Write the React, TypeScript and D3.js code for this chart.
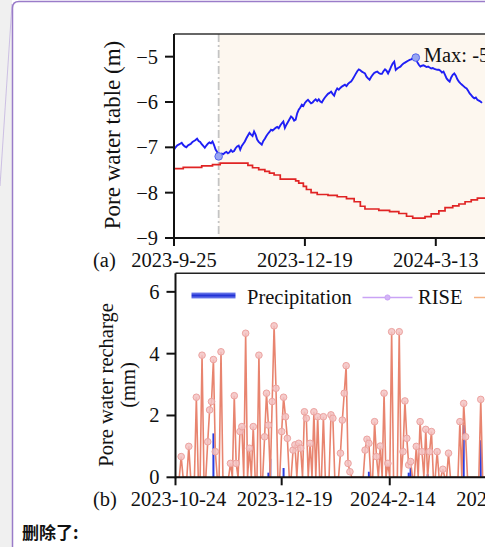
import React from "react";
import * as d3 from "d3";

const W = 485;
const H = 547;

// (a) pore water table, daily from 2023-09-25 (m)
const tableStart = "2023-9-25";
const poreWaterTable = [
  -7.05, -7.0, -6.96, -6.94, -6.92, -6.9, -6.95, -6.98, -7.0, -6.96,
  -6.94, -6.92, -6.88, -6.86, -6.84, -6.81, -6.86, -6.88, -6.93, -6.97,
  -7.01, -6.96, -6.92, -6.89, -6.91, -6.87, -6.95, -7.05, -7.1, -7.2,
  -7.17, -7.14, -7.15, -7.12, -7.1, -7.13, -7.11, -7.06, -7.1, -7.08,
  -7.02, -6.98, -6.96, -7.05, -6.97, -6.92, -6.87, -6.8, -6.74, -6.68,
  -6.72, -6.75, -6.65, -6.72, -6.83, -6.88, -6.91, -6.94, -6.86, -6.81,
  -6.75, -6.7, -6.66, -6.61, -6.63, -6.6, -6.57, -6.55, -6.58, -6.52,
  -6.47, -6.43, -6.57, -6.5, -6.44, -6.38, -6.32, -6.35, -6.41, -6.39,
  -6.25, -6.17, -6.12, -6.06, -6.09, -6.02, -5.98, -5.95, -5.99, -6.03,
  -6.01, -5.97, -5.94, -5.98, -5.94, -5.99, -6.01, -5.95, -5.9, -5.86,
  -5.82, -5.8, -5.77, -5.82, -5.86, -5.76, -5.7, -5.73, -5.69, -5.66,
  -5.64, -5.62, -5.65, -5.6, -5.57, -5.55, -5.5, -5.44, -5.38, -5.32,
  -5.28, -5.3, -5.33, -5.35, -5.37, -5.44, -5.48, -5.51, -5.45, -5.4,
  -5.36, -5.34, -5.33, -5.36, -5.38, -5.38, -5.32, -5.28, -5.31, -5.37,
  -5.3, -5.22, -5.15, -5.11, -5.29, -5.26, -5.24, -5.22, -5.18, -5.15,
  -5.13, -5.11, -5.09, -5.07, -5.06, -5.04, -5.03, -5.02, -5.12, -5.18,
  -5.22, -5.2, -5.19, -5.21, -5.23, -5.22, -5.24, -5.26, -5.25, -5.27,
  -5.28, -5.29, -5.29, -5.31, -5.35, -5.33, -5.4, -5.48, -5.52, -5.55,
  -5.46, -5.4, -5.37, -5.42, -5.5, -5.55, -5.59, -5.62, -5.65, -5.68,
  -5.7, -5.75, -5.81, -5.85, -5.89, -5.92, -5.9, -5.95, -5.97, -5.99,
  -6.02,
];

// (a) stepped reference level: day offset from start, level (m)
const stepDays = [
  0, 6, 18, 25, 30, 48, 51, 55, 59, 62, 65, 69, 79, 81, 84, 86, 89, 93, 100,
  106, 112, 117, 121, 124, 133, 140, 146, 151, 155, 163, 167, 172, 176, 181,
  185, 189, 193, 197, 205,
];
const stepLevels = [
  -7.47, -7.44, -7.41, -7.38, -7.35, -7.4, -7.45, -7.49, -7.53, -7.57, -7.61,
  -7.7, -7.74, -7.79, -7.86, -7.93, -8.0, -8.04, -8.06, -8.09, -8.13, -8.2,
  -8.3, -8.36, -8.39, -8.42, -8.46, -8.52, -8.56, -8.53, -8.47, -8.4, -8.33,
  -8.29, -8.25, -8.2, -8.16, -8.12, -8.1,
];

const minDay = 29;
const maxDay = 157;

const tableTicksY = [-9, -8, -7, -6, -5];
const tableTickDates = ["2023-9-25", "2023-12-19", "2024-3-13"];

// (b) daily recharge from 2023-10-24 (mm)
const rechargeStart = "2023-10-24";
const recharge = [
  0, 0, 0, 0.67, 0, 0, 0, 1.0, 0, 0,
  0, 2.59, 0, 0, 3.95, 0, 0, 1.15, 2.18, 2.45,
  3.81, 0.83, 0, 0, 4.06, 0, 0, 0, 0, 0.45,
  0, 2.64, 0.45, 0, 1.48, 1.64, 0, 4.66, 0, 0.94,
  0, 1.64, 0, 0, 3.95, 0, 0, 1.31, 2.72, 1.69,
  0, 2.45, 4.9, 2.88, 0, 0, 1.48, 2.59, 1.96, 1.26,
  0, 0, 0.88, 1.05, 0, 1.1, 0.94, 0, 2.12, 1.91,
  0, 1.1, 0, 2.12, 0, 1.96, 0, 0, 1.96, 0,
  0, 0, 2.02, 1.91, 0, 0, 0, 0.78, 1.85, 2.72,
  3.61, 0.45, 0.18, 0, 0, 0, 0, 0, 0, 0,
  0.88, 1.23, 1.1, 0, 0, 1.8, 0.67, 0, 1.01, 0,
  2.72, 0, 0.45, 0, 4.71, 0, 0, 0, 4.71, 0,
  0.83, 2.47, 1.26, 0.4, 0.51, 0, 0, 1.0, 0, 1.8,
  0.83, 0, 1.55, 0, 0.83, 1.48, 0, 0, 0.83, 0,
  0, 0.26, 0, 0, 0.78, 0, 0, 0, 0, 0,
  1.8, 0, 2.39, 1.31, 0, 0, 0, 0, 0, 0,
  0, 2.52, 0, 0, 0, 0, 0, 0, 0, 0,
];

// (b) precipitation events: day offset from start, amount
const precipDays = [20, 49, 50, 57, 102, 123, 124, 133, 152, 161];
const precipValues = [1.42, 0.15, 0.6, 0.3, 0.18, 0.15, 0.32, 0.1, 1.69, 1.2];

const rechargeTicksY = [0, 2, 4, 6];
const rechargeTickDates = ["2023-10-24", "2023-12-19", "2024-2-14", "2024-4-10"];

const parseDay = (s: string) => {
  const [y, m, d] = s.split("-").map(Number);
  return new Date(y, m - 1, d);
};

const FONT = "'Liberation Serif','Times New Roman',serif";
const FS = 20.5;

export default function App() {
  const t0 = parseDay(tableStart);
  const r0 = parseDay(rechargeStart);
  const dayT = (i: number) => d3.timeDay.offset(t0, i);
  const dayR = (i: number) => d3.timeDay.offset(r0, i);

  // panel (a)
  const aL = 174, aT = 34, aB = 238;
  const xA = d3.scaleTime().domain([t0, dayT(240)]).range([aL, aL + 240 * 1.54]);
  const yA = d3.scaleLinear().domain([-9, -4.5]).range([aB, aT]);

  // panel (b)
  const bL = 175.5, bT = 273.3, bB = 477.3;
  const xB = d3.scaleTime().domain([r0, dayR(200)]).range([bL, bL + 200 * 1.896]);
  const yB = d3.scaleLinear().domain([0, 6.6]).range([bB, bT]);

  const tableLine = d3
    .line<number>()
    .x((_, i) => xA(dayT(i)))
    .y((v) => yA(v))
    .curve(d3.curveLinear);

  const stepLine = d3
    .line<number>()
    .x((_, i) => xA(dayT(stepDays[i])))
    .y((v) => yA(v))
    .curve(d3.curveStepAfter);

  const rechargeLine = d3
    .line<number>()
    .x((_, i) => xB(dayR(i)))
    .y((v) => yB(v));

  const shadeX = xA(dayT(minDay));

  return (
    <svg
      width={W}
      height={H}
      style={{ position: "absolute", left: 0, top: 0, background: "#fff" }}
      fontFamily={FONT}
    >
      <defs>
        <clipPath id="clipA">
          <rect x={aL} y={aT} width={W - aL} height={aB - aT} />
        </clipPath>
        <clipPath id="clipB">
          <rect x={bL} y={bT} width={W - bL} height={bB - bT + 1} />
        </clipPath>
        <linearGradient id="precipGrad" x1="0" y1="0" x2="0" y2="1">
          <stop offset="0" stopColor="#7a88ee" />
          <stop offset="0.5" stopColor="#2333d6" />
          <stop offset="1" stopColor="#7a88ee" />
        </linearGradient>
      </defs>

      {/* side strip and balloon frame */}
      <rect x={0} y={0} width={12} height={H} fill="#f0f0f0" />
      <line x1={12} y1={4} x2={0} y2={186} stroke="#c3b3e0" strokeWidth={0.8} />
      <path
        d={`M12.5,${H} L12.5,8 Q12.5,1.5 19,1.5 L${W},1.5`}
        fill="none"
        stroke="#9a7cc9"
        strokeWidth={1.5}
      />

      {/* ---------- panel (a) ---------- */}
      <rect x={shadeX} y={aT} width={W - shadeX} height={aB - aT} fill="#fdf7ef" />
      <line
        x1={shadeX}
        x2={shadeX}
        y1={aT}
        y2={aB}
        stroke="#c4c4c4"
        strokeWidth={1.8}
        strokeDasharray="8 3 2 3"
      />
      <g clipPath="url(#clipA)">
        <path d={stepLine(stepLevels) || ""} fill="none" stroke="#e02424" strokeWidth={1.7} />
        <path d={tableLine(poreWaterTable) || ""} fill="none" stroke="#1f1ff5" strokeWidth={1.9} />
        {[minDay, maxDay].map((d) => (
          <circle
            key={d}
            cx={xA(dayT(d))}
            cy={yA(poreWaterTable[d])}
            r={3.8}
            fill="#98a6f2"
            stroke="#5464ee"
            strokeWidth={1}
          />
        ))}
      </g>
      <text x={xA(dayT(maxDay)) + 8} y={61.5} fontSize={FS} fill="#111">
        Max: -5.02 m
      </text>
      {/* frame */}
      <line x1={aL} x2={W} y1={aT} y2={aT} stroke="#333" strokeWidth={1.6} />
      <line x1={aL} x2={W} y1={aB} y2={aB} stroke="#111" strokeWidth={2} />
      <line x1={aL} x2={aL} y1={aT} y2={aB + 1} stroke="#111" strokeWidth={2} />
      {tableTicksY.map((v) => (
        <g key={v}>
          <line x1={aL - 9} x2={aL} y1={yA(v)} y2={yA(v)} stroke="#111" strokeWidth={2} />
          <text x={aL - 16} y={yA(v) + 7} fontSize={FS} textAnchor="end" fill="#111">
            {String(v).replace("-", "\u2212")}
          </text>
        </g>
      ))}
      {tableTickDates.map((s) => {
        const x = xA(parseDay(s));
        return (
          <g key={s}>
            <line x1={x} x2={x} y1={aB} y2={aB + 8} stroke="#111" strokeWidth={2} />
            <text x={x} y={267} fontSize={FS} textAnchor="middle" fill="#111">
              {s}
            </text>
          </g>
        );
      })}
      <text x={93} y={267} fontSize={FS} fill="#111">
        (a)
      </text>
      <text
        transform="translate(120,135) rotate(-90)"
        fontSize={23}
        textAnchor="middle"
        fill="#111"
      >
        Pore water table (m)
      </text>

      {/* ---------- panel (b) ---------- */}
      <g clipPath="url(#clipB)">
        {precipDays.map((d, i) => (
          <rect
            key={d}
            x={xB(dayR(d)) - 1}
            y={yB(precipValues[i])}
            width={2}
            height={yB(0) - yB(precipValues[i])}
            fill="#2a3ce0"
          />
        ))}
        <path d={rechargeLine(recharge) || ""} fill="none" stroke="#e8846f" strokeWidth={1.6} />
        {recharge.map((v, i) =>
          v > 0 ? (
            <circle
              key={i}
              cx={xB(dayR(i))}
              cy={yB(v)}
              r={3.3}
              fill="#f3c3c3"
              fillOpacity={0.85}
              stroke="#eca3a0"
              strokeWidth={1}
            />
          ) : null
        )}
      </g>
      <line x1={bL} x2={W} y1={bT} y2={bT} stroke="#222" strokeWidth={1.6} />
      <line x1={bL} x2={W} y1={bB} y2={bB} stroke="#111" strokeWidth={2} />
      <line x1={bL} x2={bL} y1={bT} y2={bB + 1} stroke="#111" strokeWidth={2} />
      {rechargeTicksY.map((v) => (
        <g key={v}>
          <line x1={bL - 9} x2={bL} y1={yB(v)} y2={yB(v)} stroke="#111" strokeWidth={2} />
          <text x={bL - 16} y={yB(v) + 7} fontSize={FS} textAnchor="end" fill="#111">
            {v}
          </text>
        </g>
      ))}
      {rechargeTickDates.map((s) => {
        const x = xB(parseDay(s));
        return (
          <g key={s}>
            <line x1={x} x2={x} y1={bB} y2={bB + 8} stroke="#111" strokeWidth={2} />
            <text x={x + 3} y={506} fontSize={FS} textAnchor="middle" fill="#111">
              {s}
            </text>
          </g>
        );
      })}
      <text x={93} y={506} fontSize={FS} fill="#111">
        (b)
      </text>
      <g transform="translate(0,385) rotate(-90)">
        <text x={0} y={113} fontSize={FS} textAnchor="middle" fill="#111">
          Pore water recharge
        </text>
        <text x={0} y={135} fontSize={FS} textAnchor="middle" fill="#111">
          (mm)
        </text>
      </g>

      {/* legend */}
      <rect x={191.5} y={292.5} width={44} height={6} fill="url(#precipGrad)" />
      <text x={247} y={303.5} fontSize={FS} fill="#111">
        Precipitation
      </text>
      <line x1={362.5} x2={412.5} y1={297.5} y2={297.5} stroke="#c9a3f5" strokeWidth={1.5} />
      <circle cx={387.5} cy={297.5} r={2.6} fill="#d3b4f7" stroke="#c9a3f5" />
      <text x={418} y={303.5} fontSize={FS} fill="#111">
        RISE
      </text>
      <line x1={474} x2={495} y1={297.5} y2={297.5} stroke="#f5b182" strokeWidth={1.5} />

      {/* caption below the figure */}
      <text
        x={22}
        y={539}
        fontSize={17}
        fontWeight="bold"
        fontFamily="'Noto Sans CJK SC','Noto Sans',sans-serif"
        fill="#111"
      >
        删除了:
      </text>
    </svg>
  );
}
